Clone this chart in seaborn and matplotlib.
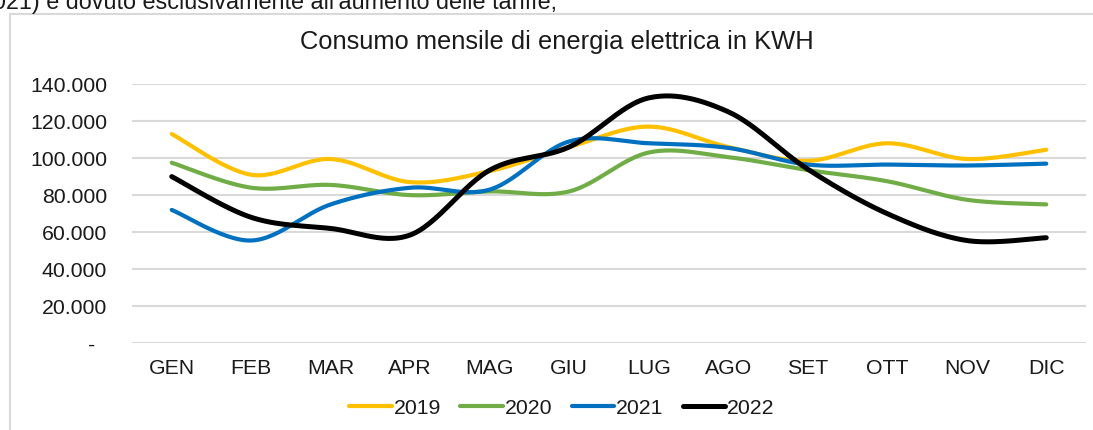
import numpy as np
import pandas as pd
import seaborn as sns
import matplotlib.pyplot as plt
from matplotlib.patches import Rectangle
from matplotlib.ticker import FuncFormatter

# monthly consumption (kWh)
months = ["GEN", "FEB", "MAR", "APR", "MAG", "GIU", "LUG", "AGO", "SET", "OTT", "NOV", "DIC"]
kwh_2019 = [113000, 91000, 99500, 87000, 93000, 106000, 117000, 106000, 98500, 108000, 99500, 104500]
kwh_2020 = [97500, 84000, 85500, 80000, 82000, 82000, 103000, 100500, 93500, 87500, 77500, 75000]
kwh_2021 = [72000, 55500, 75000, 84000, 83000, 109000, 108000, 105500, 96500, 96500, 96000, 97000]
kwh_2022 = [90000, 68000, 62000, 58500, 93500, 106000, 132500, 125000, 94000, 70000, 55500, 57000]

years = ["2019", "2020", "2021", "2022"]
series = [kwh_2019, kwh_2020, kwh_2021, kwh_2022]
colors = ["#FFC000", "#70AD47", "#0070C0", "#000000"]
widths = [3.0, 3.0, 3.0, 3.6]


def smooth(y, steps=30):
    """Excel-style smoothed line: cubic bezier with catmull-rom handles"""
    y = np.asarray(y, dtype=float)
    x = np.arange(len(y), dtype=float)
    xp = np.concatenate([[x[0]], x, [x[-1]]])
    yp = np.concatenate([[y[0]], y, [y[-1]]])
    xs, ys = [], []
    t = np.linspace(0, 1, steps)
    for i in range(len(y) - 1):
        p0 = np.array([x[i], y[i]])
        p3 = np.array([x[i + 1], y[i + 1]])
        p1 = p0 + (np.array([xp[i + 2], yp[i + 2]]) - np.array([xp[i], yp[i]])) / 6
        p2 = p3 - (np.array([xp[i + 3], yp[i + 3]]) - np.array([xp[i + 1], yp[i + 1]])) / 6
        b = (((1 - t) ** 3)[:, None] * p0 + (3 * (1 - t) ** 2 * t)[:, None] * p1
             + (3 * (1 - t) * t ** 2)[:, None] * p2 + (t ** 3)[:, None] * p3)
        xs.extend(b[:, 0])
        ys.extend(b[:, 1])
    return np.array(xs), np.array(ys)


sns.set_theme(style="white")
plt.rcParams["font.family"] = ["Liberation Sans", "DejaVu Sans"]
txt = "#1a1a1a"

fig = plt.figure(figsize=(10.93, 4.30), dpi=100)
ax = fig.add_axes([132 / 1093, 1 - 343.3 / 430, (1086 - 132) / 1093, (343.3 - 84) / 430])

for name, vals, col, lw in zip(years, series, colors, widths):
    sx, sy = smooth(vals)
    df = pd.DataFrame({"x": sx, "y": sy})
    sns.lineplot(data=df, x="x", y="y", sort=False, estimator=None, color=col,
                 linewidth=lw, label=name, ax=ax, solid_capstyle="round")

ax.set_xlim(-0.5, 11.5)
ax.set_ylim(0, 140000)
ax.set_yticks(np.arange(0, 140001, 20000))
ax.set_xticks(range(len(months)))
ax.set_xticklabels(months)
ax.yaxis.set_major_formatter(FuncFormatter(
    lambda v, p: "-  " if v == 0 else f"{int(v):,}".replace(",", ".")))
ax.tick_params(axis="both", length=0, labelsize=15.3, colors=txt)
ax.tick_params(axis="y", pad=18)
ax.tick_params(axis="x", pad=11)
ax.set_xlabel("")
ax.set_ylabel("")
ax.grid(axis="y", color="#D9D9D9", linewidth=1.5)
ax.set_axisbelow(True)
for s in ax.spines.values():
    s.set_visible(False)

ax.get_legend().remove()
handles, labels = ax.get_legend_handles_labels()
fig.legend(handles, labels, loc="center", bbox_to_anchor=(562 / 1093, 1 - 408 / 430),
           ncol=4, frameon=False, fontsize=15.3, handlelength=2.0, handletextpad=0.1,
           columnspacing=0.9, labelcolor=txt)

fig.text(557 / 1093, 1 - 49 / 430, "Consumo mensile di energia elettrica in KWH",
         ha="center", va="baseline", fontsize=18.4, color=txt)

# text of the page above the chart, cut by the crop as in the source
fig.text(557 / 1093, 1 - 9 / 430, "2021) è dovuto esclusivamente all'aumento delle tariffe;",
         ha="right", va="baseline", fontsize=16.8, color=txt)

fig.patches.append(Rectangle((10 / 1093, -0.1), 1.2, 1 - 14 / 430 + 0.1,
                             transform=fig.transFigure, fill=False,
                             edgecolor="#D9D9D9", linewidth=1.5))

fig.savefig("out.png", dpi=100)
